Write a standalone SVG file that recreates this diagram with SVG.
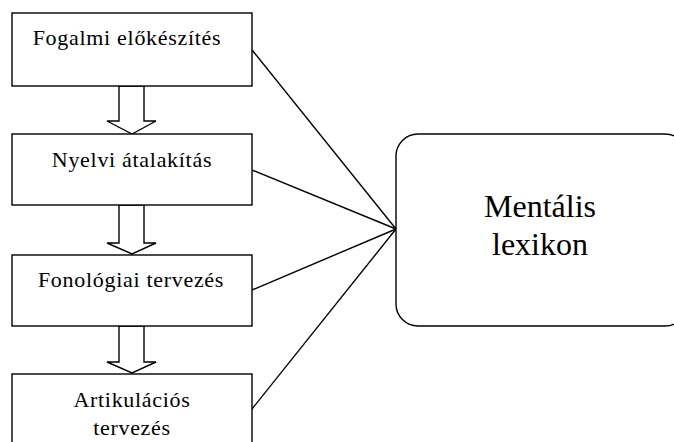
<svg xmlns="http://www.w3.org/2000/svg" width="674" height="442" viewBox="0 0 674 442">
<style>
.box{fill:#fff;stroke:#000;stroke-width:1.4}
.arr{fill:#fff;stroke:#000;stroke-width:1.4;stroke-linejoin:miter}
.t{font-family:"Liberation Serif","Times New Roman",serif;font-size:22px;letter-spacing:0.7px;fill:#000;text-anchor:middle}
.tb{font-family:"Liberation Serif","Times New Roman",serif;font-size:32px;fill:#000;text-anchor:middle}
.c{stroke:#000;stroke-width:1.4;fill:none}
</style>
<rect width="674" height="442" fill="#fff"/>
<g id="connectors">
<line class="c" x1="252" y1="50" x2="396" y2="229"/>
<line class="c" x1="252" y1="170" x2="396" y2="229"/>
<line class="c" x1="252" y1="290" x2="396" y2="229"/>
<line class="c" x1="252" y1="409" x2="396" y2="229"/>
<polygon class="arr" points="119,86 144,86 144,121 156,121 132,134 107,121 119,121"/>
<polygon class="arr" points="119,205 144,205 144,243 156,243 132,254 107,243 119,243"/>
<polygon class="arr" points="119,326 144,326 144,362 156,362 132,373 107,362 119,362"/>
</g>
<g id="node1">
<rect class="box" x="12" y="13" width="240" height="73"/>
<text class="t" x="127" y="45">Fogalmi előkészítés</text>
</g>
<g id="node2">
<rect class="box" x="12" y="134" width="240" height="71"/>
<text class="t" x="132" y="167">Nyelvi átalakítás</text>
</g>
<g id="node3">
<rect class="box" x="12" y="255" width="240" height="71"/>
<text class="t" x="131" y="287">Fonológiai tervezés</text>
</g>
<g id="node4">
<rect class="box" x="12" y="374" width="240" height="80"/>
<text class="t" x="132" y="407">Artikulációs</text>
<text class="t" x="132" y="435">tervezés</text>
</g>
<g id="node5">
<rect class="box" x="396" y="134" width="291" height="192" rx="22" ry="22"/>
<text class="tb" x="540" y="217">Mentális</text>
<text class="tb" x="540" y="255">lexikon</text>
</g>
</svg>
